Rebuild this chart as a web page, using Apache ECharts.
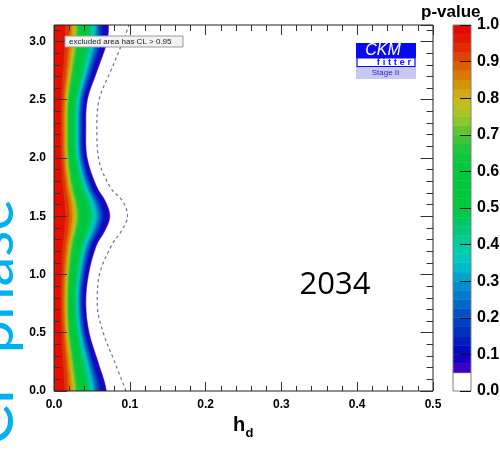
<!DOCTYPE html>
<html>
<head>
<meta charset="utf-8">
<script src="https://cdn.jsdelivr.net/npm/echarts@6/dist/echarts.min.js"></script>
<style>
  html, body { margin: 0; padding: 0; background: #fff; }
  #chart { width: 500px; height: 462px; }
</style>
</head>
<body>
<div id="chart"></div>
<script>
// CP phase rows (rad) at which the p-value contours are sampled
const sigmaRows = [0, 0.25, 0.5, 0.75, 1.0, 1.25, 1.375, 1.5, 1.625, 1.75, 2.0, 2.25, 2.5, 2.75, 3.0, 3.1416];

// h_d position of each p-value contour, one value per CP phase row
const hP05 = [0.0690, 0.0580, 0.0463, 0.0420, 0.0455, 0.0560, 0.0670, 0.0737, 0.0680, 0.0565, 0.0437, 0.0420, 0.0440, 0.0570, 0.0700, 0.0720];
const hP10 = [0.0642, 0.0539, 0.0431, 0.0391, 0.0423, 0.0521, 0.0623, 0.0685, 0.0632, 0.0525, 0.0406, 0.0391, 0.0409, 0.0530, 0.0651, 0.0670];
const hP15 = [0.0607, 0.0510, 0.0407, 0.0370, 0.0400, 0.0493, 0.0590, 0.0649, 0.0598, 0.0497, 0.0385, 0.0370, 0.0387, 0.0502, 0.0616, 0.0634];
const hP20 = [0.0580, 0.0487, 0.0389, 0.0353, 0.0382, 0.0470, 0.0563, 0.0619, 0.0571, 0.0475, 0.0367, 0.0353, 0.0370, 0.0479, 0.0588, 0.0605];
const hP25 = [0.0552, 0.0464, 0.0370, 0.0336, 0.0364, 0.0448, 0.0536, 0.0590, 0.0544, 0.0452, 0.0350, 0.0336, 0.0352, 0.0456, 0.0560, 0.0576];
const hP30 = [0.0531, 0.0447, 0.0357, 0.0323, 0.0350, 0.0431, 0.0516, 0.0567, 0.0524, 0.0435, 0.0336, 0.0323, 0.0339, 0.0439, 0.0539, 0.0554];
const hP35 = [0.0511, 0.0429, 0.0343, 0.0311, 0.0337, 0.0414, 0.0496, 0.0545, 0.0503, 0.0418, 0.0323, 0.0311, 0.0326, 0.0422, 0.0518, 0.0533];
const hP40 = [0.0483, 0.0406, 0.0324, 0.0294, 0.0319, 0.0392, 0.0469, 0.0516, 0.0476, 0.0396, 0.0306, 0.0294, 0.0308, 0.0399, 0.0490, 0.0504];
const hP45 = [0.0455, 0.0383, 0.0306, 0.0277, 0.0300, 0.0370, 0.0442, 0.0486, 0.0449, 0.0373, 0.0288, 0.0277, 0.0290, 0.0376, 0.0462, 0.0475];
const hP50 = [0.0414, 0.0348, 0.0278, 0.0252, 0.0273, 0.0336, 0.0402, 0.0442, 0.0408, 0.0339, 0.0262, 0.0252, 0.0264, 0.0342, 0.0420, 0.0432];
const hP55 = [0.0380, 0.0319, 0.0255, 0.0231, 0.0250, 0.0308, 0.0369, 0.0405, 0.0374, 0.0311, 0.0240, 0.0231, 0.0242, 0.0314, 0.0385, 0.0396];
const hP60 = [0.0345, 0.0290, 0.0232, 0.0210, 0.0228, 0.0280, 0.0335, 0.0369, 0.0340, 0.0283, 0.0219, 0.0210, 0.0220, 0.0285, 0.0350, 0.0360];
const hP65 = [0.0311, 0.0261, 0.0208, 0.0189, 0.0205, 0.0252, 0.0302, 0.0332, 0.0306, 0.0254, 0.0197, 0.0189, 0.0198, 0.0257, 0.0315, 0.0324];
const hP70 = [0.0290, 0.0244, 0.0194, 0.0176, 0.0191, 0.0235, 0.0281, 0.0310, 0.0286, 0.0237, 0.0184, 0.0176, 0.0185, 0.0239, 0.0294, 0.0302];
const hP75 = [0.0269, 0.0226, 0.0181, 0.0164, 0.0177, 0.0218, 0.0261, 0.0287, 0.0265, 0.0220, 0.0170, 0.0164, 0.0172, 0.0222, 0.0273, 0.0281];
const hP80 = [0.0248, 0.0209, 0.0167, 0.0151, 0.0164, 0.0202, 0.0241, 0.0265, 0.0245, 0.0203, 0.0157, 0.0151, 0.0158, 0.0205, 0.0252, 0.0259];
const hP85 = [0.0221, 0.0186, 0.0148, 0.0134, 0.0146, 0.0179, 0.0214, 0.0236, 0.0218, 0.0181, 0.0140, 0.0134, 0.0141, 0.0182, 0.0224, 0.0230];
const hP90 = [0.0186, 0.0157, 0.0125, 0.0113, 0.0123, 0.0151, 0.0181, 0.0199, 0.0184, 0.0153, 0.0118, 0.0113, 0.0119, 0.0154, 0.0189, 0.0194];
const hP95 = [0.0138, 0.0116, 0.0093, 0.0084, 0.0091, 0.0112, 0.0134, 0.0147, 0.0136, 0.0113, 0.0087, 0.0084, 0.0088, 0.0114, 0.0140, 0.0144];

// lower p-value edge of each filled contour
const pLevels = [0.05, 0.10, 0.15, 0.20, 0.25, 0.30, 0.35, 0.40, 0.45, 0.50, 0.55, 0.60, 0.65, 0.70, 0.75, 0.80, 0.85, 0.90, 0.95];

// dashed contour (h_d per CP phase row)
const dashedH = [0.095, 0.080, 0.065, 0.057, 0.060, 0.076, 0.089, 0.097, 0.091, 0.074, 0.0587, 0.0565, 0.0595, 0.075, 0.091, 0.099];

// colour scale from p = 0.05 (purple) to p = 1.0 (red); the excluded region below 0.05 is white
const palette = ['#5000c8', '#0000be', '#0028be', '#0046c3', '#0073c8', '#0096d2', '#00c8c8', '#00cda0',
                 '#00c86e', '#00c83c', '#00c83c', '#00c83c', '#10c83c', '#50c332', '#a0c828', '#cdb914',
                 '#d78700', '#dc5000', '#e11e00', '#e60000'];
const pMin = 0.05;
const excludedColor = '#ffffff';

const contourH = [hP05, hP10, hP15, hP20, hP25, hP30, hP35, hP40, hP45, hP50,
                  hP55, hP60, hP65, hP70, hP75, hP80, hP85, hP90, hP95];
const levelStep = 0.05;

// each contour item: [colour value at the band centre, contour index]
const contourItems = pLevels.map((p, i) => [p + levelStep / 2, i]);

// colour bar steps: [centre, low, high]
const barStep = 0.025;
const barItems = [];
for (let k = 0; k < Math.round(1 / barStep); k++) {
  const lo = k * barStep, hi = lo + barStep;
  barItems.push([lo + barStep / 2, lo, hi]);
}

const dashedData = sigmaRows.map((s, k) => [dashedH[k], s]);

const boldFont = 'Liberation Sans, Arial, Helvetica, sans-serif';
const fmt1 = v => v.toFixed(1);
const noLine = () => ({ show: false, onZero: false });
const ticks = (len) => ({ show: true, inside: true, length: len, lineStyle: { color: '#333', width: 1 } });
const minor = (len) => ({ show: true, splitNumber: 5, length: len, lineStyle: { color: '#333', width: 1 } });
const tickLabel = () => ({ show: true, fontFamily: boldFont, fontWeight: 'bold', fontSize: 12, color: '#000', margin: 8, formatter: fmt1 });
const plotRect = () => ({ left: 54, top: 25, width: 379, height: 366, outerBoundsMode: 'none' });

const chart = echarts.init(document.getElementById('chart'), null, { renderer: 'canvas' });

chart.setOption({
  animation: false,
  backgroundColor: '#fff',
  grid: [
    // plot frame
    Object.assign(plotRect(), { show: true, z: 20, borderColor: '#222', borderWidth: 1, backgroundColor: 'transparent' }),
    { left: 453, top: 25, width: 18, height: 366, outerBoundsMode: 'none',
      show: true, z: 20, borderColor: '#808080', borderWidth: 1, backgroundColor: 'transparent' },
    // same rectangle as the plot, carrying the 0.1 minor ticks of the CP phase axis
    plotRect()
  ],
  xAxis: [
    { gridIndex: 0, type: 'value', position: 'bottom', min: 0, max: 0.5, interval: 0.1, z: 30,
      axisLine: noLine(), axisTick: ticks(9), minorTick: minor(5),
      axisLabel: tickLabel(), splitLine: { show: false }, minorSplitLine: { show: false } },
    { gridIndex: 0, type: 'value', position: 'top', min: 0, max: 0.5, interval: 0.1, z: 30,
      axisLine: noLine(), axisTick: ticks(10), minorTick: minor(6),
      axisLabel: { show: false }, splitLine: { show: false }, minorSplitLine: { show: false } },
    { gridIndex: 1, type: 'value', min: 0, max: 1, show: false },
    { gridIndex: 2, type: 'value', min: 0, max: 0.5, show: false }
  ],
  yAxis: [
    { gridIndex: 0, type: 'value', position: 'left', min: 0, max: Math.PI, interval: 0.5, z: 30,
      axisLine: noLine(), axisTick: ticks(13),
      axisLabel: Object.assign(tickLabel(), { showMaxLabel: false }),
      splitLine: { show: false } },
    { gridIndex: 0, type: 'value', position: 'right', min: 0, max: Math.PI, interval: 0.5, z: 30,
      axisLine: noLine(), axisTick: ticks(12.5),
      axisLabel: { show: false }, splitLine: { show: false } },
    { gridIndex: 1, type: 'value', position: 'right', min: 0, max: 1, interval: 0.1, z: 30,
      axisLine: noLine(),
      axisTick: { show: true, inside: true, length: 11, lineStyle: { color: '#111', width: 1 } },
      axisLabel: { show: true, fontFamily: boldFont, fontWeight: 'bold', fontSize: 16, color: '#000', margin: 6, formatter: fmt1 },
      splitLine: { show: false } },
    { gridIndex: 2, type: 'value', position: 'left', min: 0, max: Math.PI, interval: 0.1, z: 30,
      axisLine: noLine(), axisTick: ticks(6.5),
      axisLabel: { show: false }, splitLine: { show: false } },
    { gridIndex: 2, type: 'value', position: 'right', min: 0, max: Math.PI, interval: 0.1, z: 30,
      axisLine: noLine(), axisTick: ticks(6.5),
      axisLabel: { show: false }, splitLine: { show: false } }
  ],
  visualMap: {
    show: false, type: 'continuous', min: pMin, max: 1, dimension: 0, seriesIndex: [0, 2],
    inRange: { color: palette }
  },
  series: [
    {
      // filled p-value contours, outermost first
      type: 'custom', xAxisIndex: 0, yAxisIndex: 0, clip: true, z: 2,
      data: contourItems,
      renderItem(params, api) {
        const hs = contourH[api.value(1)];
        const last = sigmaRows.length - 1;
        const pad = 0.3, left = -0.1;
        const pts = [api.coord([left, sigmaRows[0] - pad]), api.coord([hs[0], sigmaRows[0] - pad])];
        for (let k = 0; k <= last; k++) pts.push(api.coord([hs[k], sigmaRows[k]]));
        pts.push(api.coord([hs[last], sigmaRows[last] + pad]));
        pts.push(api.coord([left, sigmaRows[last] + pad]));
        const c = api.visual('color');
        return { type: 'polygon', shape: { points: pts, smooth: 0.35 },
                 style: { fill: c, stroke: c, lineWidth: 0.5 } };
      }
    },
    {
      type: 'line', xAxisIndex: 0, yAxisIndex: 0, data: dashedData, smooth: 0.35,
      symbol: 'none', silent: true, z: 3,
      lineStyle: { color: '#6e6eb4', width: 1.2, type: [3, 3] }
    },
    {
      // colour bar
      type: 'custom', xAxisIndex: 2, yAxisIndex: 2, clip: true, z: 2,
      data: barItems,
      renderItem(params, api) {
        const p0 = api.coord([0, api.value(2)]);
        const p1 = api.coord([1, api.value(1)]);
        const c = api.value(2) <= pMin + 1e-9 ? excludedColor : api.visual('color');
        return { type: 'rect', shape: { x: p0[0], y: p0[1], width: p1[0] - p0[0], height: p1[1] - p0[1] },
                 style: { fill: c, stroke: c, lineWidth: 0.5 } };
      }
    }
  ],
  graphic: [
    // legend note
    { type: 'rect', z: 50, shape: { x: 65, y: 36, width: 118, height: 11 },
      style: { fill: '#f2f2f2', stroke: '#9a9a9a', lineWidth: 1 } },
    { type: 'text', z: 51, x: 69, y: 41.5,
      style: { text: 'excluded area has CL > 0.95', fontFamily: boldFont, fontSize: 8, fill: '#222',
               textVerticalAlign: 'middle' } },
    // CKMfitter logo
    { type: 'rect', z: 50, shape: { x: 356, y: 43, width: 60, height: 15 }, style: { fill: '#0a0af0' } },
    { type: 'rect', z: 50, shape: { x: 357, y: 58, width: 58, height: 8.5 },
      style: { fill: '#ffffff', stroke: '#0a0af0', lineWidth: 1.2 } },
    { type: 'rect', z: 50, shape: { x: 356, y: 67, width: 60, height: 12 }, style: { fill: '#c8c8f0' } },
    { type: 'text', z: 51, x: 383, y: 50.5,
      style: { text: 'CKM', fontFamily: boldFont, fontStyle: 'italic', fontSize: 16, fill: '#fff',
               textAlign: 'center', textVerticalAlign: 'middle' } },
    { type: 'text', z: 51, x: 394, y: 62.5,
      style: { text: 'f i t t e r', fontFamily: boldFont, fontWeight: 'bold', fontSize: 9.5, fill: '#1414ff',
               textAlign: 'center', textVerticalAlign: 'middle' } },
    { type: 'text', z: 51, x: 385.5, y: 73,
      style: { text: 'Stage II', fontFamily: boldFont, fontSize: 8, fill: '#2828d8',
               textAlign: 'center', textVerticalAlign: 'middle' } },
    // colour bar title
    { type: 'text', z: 51, x: 421, y: 12,
      style: { text: 'p-value', fontFamily: boldFont, fontWeight: 'bold', fontSize: 17, fill: '#000',
               textVerticalAlign: 'middle' } },
    // x axis title h_d
    { type: 'text', z: 51, x: 233, y: 425,
      style: { text: 'h', fontFamily: boldFont, fontWeight: 'bold', fontSize: 20, fill: '#000',
               textVerticalAlign: 'middle' } },
    { type: 'text', z: 51, x: 245.5, y: 433,
      style: { text: 'd', fontFamily: boldFont, fontWeight: 'bold', fontSize: 13, fill: '#000',
               textVerticalAlign: 'middle' } },
    // year label
    { type: 'text', z: 51, x: 335, y: 285,
      style: { text: '2034', fontFamily: 'Open Sans, Lato, sans-serif', fontSize: 31, fill: '#000',
               textAlign: 'center', textVerticalAlign: 'middle' } },
    // vertical slide caption
    { type: 'text', z: 51, x: -6, y: 322, rotation: Math.PI / 2,
      style: { text: 'CP phase', fontFamily: 'Lato, Open Sans, sans-serif', fontSize: 60, fill: '#00b0f0',
               textAlign: 'center', textVerticalAlign: 'middle' } }
  ]
});
</script>
</body>
</html>
